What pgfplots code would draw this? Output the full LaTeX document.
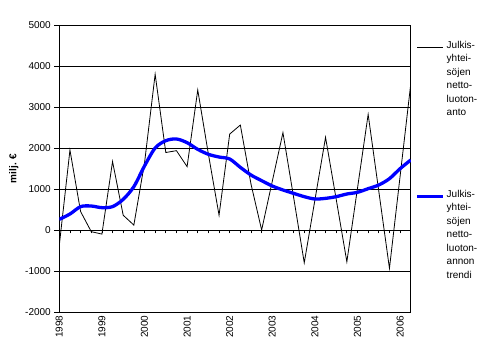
\documentclass[border=0pt]{standalone}
\usepackage{fontspec}
\setmainfont{Liberation Sans}
\usepackage{pgfplots}
\pgfplotsset{compat=1.18}
\pgfplotstableread{
i val
0 -370
1 1950
2 450
3 -40
4 -100
5 1670
6 360
7 120
8 1630
9 3800
10 1890
11 1935
12 1545
13 3415
14 1850
15 360
16 2340
17 2560
18 1120
19 0
20 1190
21 2375
22 800
23 -800
24 730
25 2260
26 750
27 -775
28 1020
29 2820
30 945
31 -935
32 1310
33 3560
}\netto
\pgfplotstableread{
i val
0 260
1 390
2 570
3 585
4 545
5 570
6 748
7 1057
8 1561
9 2000
10 2179
11 2220
12 2130
13 1967
14 1846
15 1780
16 1732
17 1528
18 1341
19 1203
20 1073
21 976
22 894
23 813
24 756
25 772
26 813
27 878
28 919
29 1008
30 1098
31 1252
32 1496
33 1707
}\trendi
\begin{document}
\begin{tikzpicture}
\begin{axis}[
  at={(0,0)}, anchor=south west,
  scale only axis, width=351.45bp, height=287bp,
  xmin=0, xmax=33, ymin=-2000, ymax=5000,
  enlargelimits=false,
  axis line style={black, line width=0.8bp},
  xtick={0,4,...,32},
  xticklabels={1998,1999,2000,2001,2002,2003,2004,2005,2006},
  xtick style={draw=none},
  xticklabel style={rotate=90, anchor=east, font=\fontsize{10bp}{12bp}\selectfont},
  ytick={-2000,-1000,...,5000},
  ytick align=outside, ytick pos=left,
  major tick length=5bp,
  ytick style={black, line width=0.8bp},
  yticklabel style={font=\fontsize{10bp}{12bp}\selectfont},
  /pgf/number format/assume math mode=true,
  /pgf/number format/1000 sep={},
  ymajorgrids, major grid style={black, line width=0.8bp},
  ylabel={\bfseries milj. €},
  ylabel style={font=\fontsize{10bp}{12bp}\selectfont},
  legend style={draw=none, fill=none, at={(axis description cs:1,1)}, anchor=north west,
    xshift=4.5bp, yshift=-11.7bp, inner sep=0pt,
    font=\fontsize{10bp}{14.7bp}\selectfont\def\arraystretch{0.92}, row sep=134bp,
    cells={anchor=north west}},
  legend cell align=left,
  legend image code/.code={\draw[#1] (0bp,-0.6ex) -- (26bp,-0.6ex);},
]
\addplot[black, line width=0.8bp] table[x=i, y=val] {\netto};
\addlegendentry{\begin{tabular}[t]{@{}l@{}}Julkis-\\yhtei-\\söjen\\netto-\\luoton-\\anto\end{tabular}}
\addplot[blue, line width=3.3bp, smooth, tension=0.5] table[x=i, y=val] {\trendi};
\addlegendentry{\begin{tabular}[t]{@{}l@{}}Julkis-\\yhtei-\\söjen\\netto-\\luoton-\\annon\\trendi\end{tabular}}
\end{axis}
\begin{axis}[
  at={(0,0)}, anchor=south west,
  scale only axis, width=351.45bp, height=287bp,
  xmin=0, xmax=33, ymin=-2000, ymax=5000,
  enlargelimits=false,
  axis x line=middle, axis y line=none,
  axis line style={-, draw=none},
  xtick={0,...,32}, xticklabels={},
  xtick align=outside, major tick length=3.5bp,
  xtick style={black, line width=0.8bp},
]
\addplot[draw=none] coordinates {(0,0)};
\end{axis}
\pgfresetboundingbox
\path[use as bounding box] (-59.3bp,-39bp) rectangle (428.7bp,312bp);
\end{tikzpicture}
\end{document}
